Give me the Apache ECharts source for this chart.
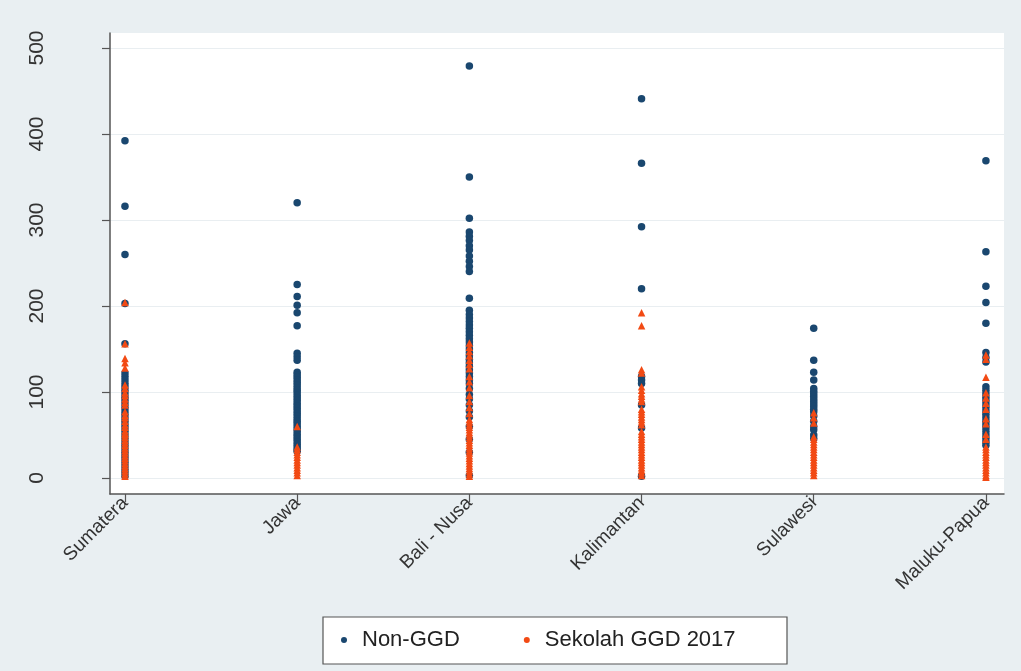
<!DOCTYPE html>
<html><head><meta charset="utf-8">
<script src="https://cdn.jsdelivr.net/npm/echarts@6/dist/echarts.min.js"></script>
<style>html,body{margin:0;padding:0;background:#E9EFF2;} #c{width:1021px;height:671px;}</style>
</head><body><div id="c"></div>
<script>
const categories = ['Sumatera', 'Jawa', 'Bali - Nusa', 'Kalimantan', 'Sulawesi', 'Maluku-Papua'];
const yTicks = [0, 100, 200, 300, 400, 500];
const xTicks = [0, 1, 2, 3, 4, 5];
const seriesNames = ['Non-GGD', 'Sekolah GGD 2017'];

// Non-GGD values per region
const nonSumatera = [392, 316, 260, 203, 156, 122, 118, 114, 110, 106, 102, 98, 94, 90, 86, 82, 78, 74, 70, 66, 62, 58, 54, 50, 46, 42, 38, 34, 30, 26, 22, 18, 14, 10, 6, 2];
const nonJawa = [320, 225, 211, 201, 192, 177, 145, 141, 137, 123, 120, 117, 114, 111, 108, 105, 102, 99, 96, 93, 90, 87, 84, 81, 78, 75, 72, 69, 66, 63, 60, 57, 54, 51, 48, 45, 42, 39, 36, 33, 31];
const nonBali = [479, 350, 302, 286, 281, 276, 270, 265, 258, 252, 246, 240, 209, 195, 190, 186, 182, 178, 174, 170, 166, 162, 158, 154, 150, 146, 142, 138, 134, 130, 126, 122, 118, 114, 110, 104, 97, 92, 85, 78, 71, 60, 45, 30, 3];
const nonKalimantan = [441, 366, 292, 220, 118, 114, 110, 85, 58, 2];
const nonSulawesi = [174, 137, 123, 114, 104, 101, 98, 95, 92, 89, 86, 83, 80, 77, 72, 66, 60, 56, 50, 46];
const nonMaluku = [369, 263, 223, 204, 180, 146, 140, 135, 106, 102, 98, 94, 90, 86, 82, 78, 74, 70, 66, 62, 58, 54, 50, 46, 42, 38];

// Sekolah GGD 2017 values per region
const ggdSumatera = [204, 156, 139, 134, 128, 108, 104, 99, 96, 92, 88, 85, 77, 73, 70, 66, 62, 59, 55, 52, 50, 47, 44, 41, 38, 35, 32, 29, 26, 23, 20, 17, 14, 11, 8, 5, 2];
const ggdJawa = [60, 36, 33, 30, 27, 24, 21, 18, 15, 12, 9, 6, 3];
const ggdBali = [157, 152, 147, 142, 137, 132, 127, 118, 112, 105, 96, 89, 82, 75, 68, 65, 62, 59, 56, 53, 50, 47, 44, 41, 38, 35, 32, 29, 26, 23, 20, 17, 14, 11, 8, 5, 2];
const ggdKalimantan = [192, 177, 126, 122, 106, 102, 98, 95, 92, 89, 80, 77, 74, 71, 68, 65, 62, 54, 51, 48, 45, 42, 39, 36, 33, 30, 27, 24, 21, 18, 15, 12, 9, 6, 3];
const ggdSulawesi = [76, 70, 64, 48, 45, 42, 39, 36, 33, 30, 27, 24, 21, 18, 15, 12, 9, 6, 3];
const ggdMaluku = [143, 138, 117, 99, 93, 87, 80, 69, 63, 51, 45, 36, 33, 30, 27, 24, 21, 18, 15, 12, 9, 6, 3, 1];

const nonGroups = [nonSumatera, nonJawa, nonBali, nonKalimantan, nonSulawesi, nonMaluku];
const ggdGroups = [ggdSumatera, ggdJawa, ggdBali, ggdKalimantan, ggdSulawesi, ggdMaluku];

function toPoints(groups) {
  const out = [];
  groups.forEach((vals, i) => vals.forEach(v => out.push([i, v])));
  return out;
}

const chart = echarts.init(document.getElementById('c'), null, {renderer: 'canvas'});
const axisColor = '#555';
chart.setOption({
  animation: false,
  backgroundColor: '#E9EFF2',
  textStyle: {fontFamily: 'Liberation Sans, Arial, sans-serif'},
  grid: {left: 110, right: 17, top: 33, bottom: 177, show: true, backgroundColor: '#ffffff', borderWidth: 0},
  graphic: [{
    type: 'rect', z: 0,
    shape: {x: 323, y: 617, width: 464, height: 47},
    style: {fill: '#ffffff', stroke: '#555', lineWidth: 1.2}
  }],
  legend: {
    z: 10,
    left: 341, top: 627, padding: 0, itemGap: 64,
    itemWidth: 6, itemHeight: 6,
    data: [{name: seriesNames[0], icon: 'circle'}, {name: seriesNames[1], icon: 'circle'}],
    textStyle: {fontSize: 22, color: '#222', padding: [0, 0, 0, 10], lineHeight: 26}
  },
  xAxis: {
    type: 'value', min: -0.087, max: 5.105,
    axisLine: {show: true, onZero: false, lineStyle: {color: axisColor, width: 1.5}},
    axisTick: {show: true, customValues: xTicks, length: 8, lineStyle: {color: axisColor, width: 1.2}},
    axisLabel: {customValues: xTicks, formatter: v => categories[Math.round(v)], rotate: 45, fontSize: 19, color: '#333', margin: 6},
    splitLine: {show: false}
  },
  yAxis: {
    type: 'value', min: -18.6, max: 517.4,
    axisLine: {show: true, onZero: false, lineStyle: {color: axisColor, width: 1.5}},
    axisTick: {show: true, customValues: yTicks, length: 8, lineStyle: {color: axisColor, width: 1.2}},
    axisLabel: {customValues: yTicks, rotate: 90, fontSize: 21, color: '#333', margin: 62},
    splitLine: {show: true, lineStyle: {color: '#E9EEF1', width: 1.2}}
  },
  series: [
    {
      name: seriesNames[0], type: 'scatter', symbol: 'circle', symbolSize: 7.5,
      itemStyle: {color: '#1A476F', opacity: 1}, emphasis: {disabled: true},
      data: toPoints(nonGroups)
    },
    {
      name: seriesNames[1], type: 'scatter', symbol: 'triangle', symbolSize: 7.5,
      itemStyle: {color: '#F24A14', opacity: 1}, emphasis: {disabled: true},
      data: toPoints(ggdGroups)
    }
  ]
});
</script>
</body></html>
